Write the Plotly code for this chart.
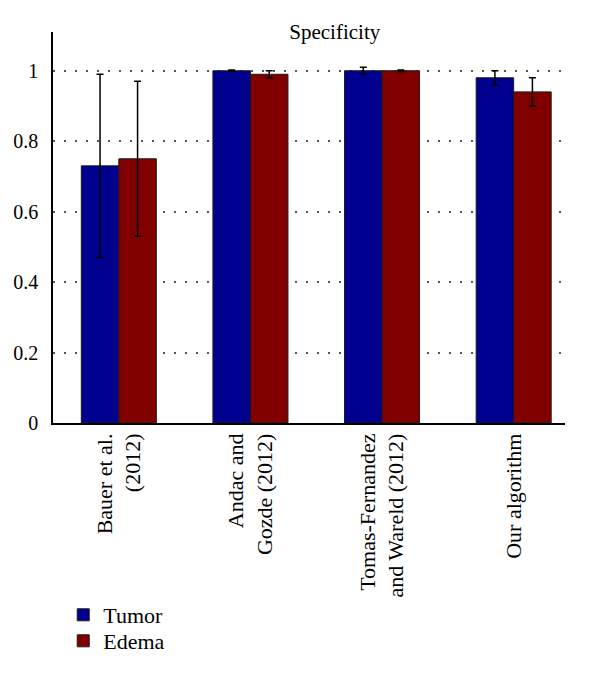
import plotly.graph_objects as go

categories = ["Bauer et al.<br>(2012)", "Andac and<br>Gozde (2012)",
              "Tomas-Fernandez<br>and Wareld (2012)", "Our algorithm"]
tumor = [0.73, 1.0, 1.0, 0.98]
tumor_err = [0.26, 0.002, 0.01, 0.02]
edema = [0.75, 0.99, 1.0, 0.94]
edema_err = [0.22, 0.01, 0.002, 0.04]
ytick_vals = [0, 0.2, 0.4, 0.6, 0.8, 1]
ytick_text = ["0", "0.2", "0.4", "0.6", "0.8", "1"]

FONT = "Liberation Serif"

fig = go.Figure()
fig.add_trace(go.Bar(
    x=list(range(len(categories))), y=tumor, name="Tumor", legend="legend",
    marker=dict(color="#00008F", line=dict(color="#1a1a1a", width=1)),
    error_y=dict(type="data", array=tumor_err, color="black", thickness=1.5, width=3.5),
))
fig.add_trace(go.Bar(
    x=list(range(len(categories))), y=edema, name="Edema", legend="legend2",
    marker=dict(color="#800000", line=dict(color="#1a1a1a", width=1)),
    error_y=dict(type="data", array=edema_err, color="black", thickness=1.5, width=3.5),
))

fig.update_layout(
    width=600, height=676,
    margin=dict(l=53, r=35, t=32, b=253),
    paper_bgcolor="white", plot_bgcolor="white",
    barmode="group", bargap=0.43, bargroupgap=0,
    font=dict(family=FONT, size=20, color="black"),
    title=dict(text="Specificity", x=0.558, xanchor="center", y=0.953, yanchor="middle",
               font=dict(family=FONT, size=21, color="black")),
    showlegend=True,
    legend=dict(y=-(615 - 423) / 391, x=0.02, xanchor="left", yanchor="middle",
                font=dict(family=FONT, size=22, color="black"), bgcolor="rgba(0,0,0,0)"),
    legend2=dict(y=-(641 - 423) / 391, x=0.02, xanchor="left", yanchor="middle",
                 font=dict(family=FONT, size=22, color="black"), bgcolor="rgba(0,0,0,0)"),
    xaxis=dict(
        range=[-0.5, 3.39], tickmode="array", tickvals=list(range(len(categories))),
        ticktext=categories, tickangle=-90, showgrid=False, zeroline=False,
        showline=True, linecolor="black", linewidth=1.5, ticks="",
        tickfont=dict(family=FONT, size=22),
    ),
    yaxis=dict(
        range=[0, 1.11], tickmode="array", tickvals=ytick_vals, ticktext=ytick_text,
        showgrid=True, gridcolor="#555555", griddash="1.5px,9.5px", gridwidth=1.5,
        zeroline=False, showline=True, linecolor="black", linewidth=1.5, ticks="",
        tickfont=dict(family=FONT, size=20), ticklabelstandoff=9,
    ),
)

fig.write_html("out.html", config={"displayModeBar": False},
               post_script="document.body.style.margin='0';")
